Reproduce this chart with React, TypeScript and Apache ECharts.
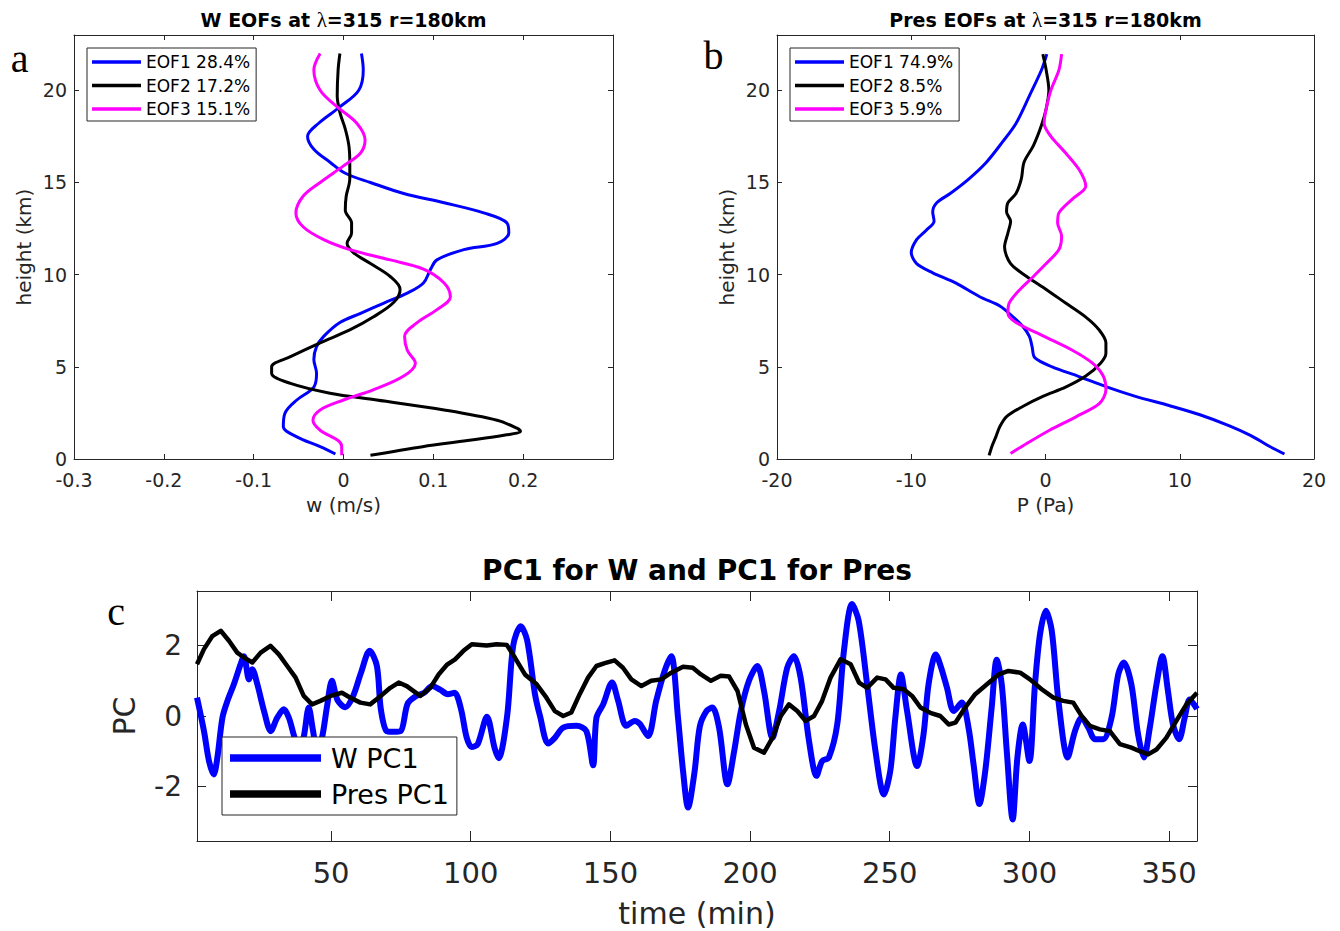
import React, { useEffect, useRef } from "react";
import * as echarts from "echarts";

// ---------- Panel a : W EOFs (x = w in m/s, y = height km) ----------
const wEof1H = [22.0, 21.1, 20.0, 19.1, 18.2, 17.5, 16.8, 16.1, 15.5, 15.0, 14.4, 13.9, 13.35, 12.8, 12.26, 11.7, 11.36, 10.8, 10.3, 9.55, 9.0, 8.46, 7.9, 7.4, 6.65, 6.1, 5.4, 4.65, 3.9, 3.2, 2.5, 1.76, 1.2, 0.67, 0.27];
const wEof1X = [0.020, 0.022, 0.017, -0.004, -0.028, -0.040, -0.033, -0.015, 0.002, 0.030, 0.067, 0.112, 0.156, 0.182, 0.184, 0.171, 0.134, 0.104, 0.097, 0.089, 0.071, 0.045, 0.019, -0.004, -0.022, -0.030, -0.033, -0.030, -0.033, -0.052, -0.065, -0.067, -0.052, -0.026, -0.009];

const wEof2H = [22.0, 21.1, 19.7, 18.8, 17.9, 17.0, 16.1, 15.2, 14.25, 13.5, 12.8, 12.26, 11.7, 11.2, 10.6, 9.9, 9.2, 8.5, 7.7, 7.0, 6.3, 5.55, 5.0, 4.65, 4.1, 3.57, 3.2, 2.66, 2.1, 1.67, 1.5, 1.3, 1.0, 0.67, 0.2];
const wEof2X = [-0.004, -0.006, -0.007, -0.004, 0.002, 0.006, 0.007, 0.007, 0.003, 0.002, 0.009, 0.009, 0.004, 0.011, 0.030, 0.052, 0.063, 0.056, 0.033, 0.007, -0.026, -0.059, -0.080, -0.080, -0.059, -0.015, 0.037, 0.112, 0.171, 0.193, 0.197, 0.180, 0.138, 0.088, 0.030];

const wEof3H = [22.0, 21.1, 20.0, 19.1, 18.2, 17.3, 16.6, 15.9, 15.0, 14.25, 13.35, 12.6, 11.9, 11.36, 10.8, 10.3, 9.55, 8.8, 8.1, 7.4, 6.65, 5.9, 5.2, 4.5, 3.75, 3.2, 2.66, 2.1, 1.56, 1.0, 0.67, 0.2];
const wEof3X = [-0.026, -0.033, -0.026, -0.007, 0.015, 0.024, 0.019, 0.000, -0.026, -0.045, -0.053, -0.045, -0.022, 0.007, 0.052, 0.089, 0.112, 0.119, 0.104, 0.082, 0.068, 0.071, 0.080, 0.067, 0.033, 0.000, -0.026, -0.034, -0.026, -0.006, -0.002, -0.002];

// ---------- Panel b : Pres EOFs (x = P in Pa, y = height km) ----------
const pEof1H = [21.96, 21.1, 19.7, 18.2, 17.2, 16.1, 15.2, 14.4, 13.9, 13.4, 12.9, 12.4, 11.9, 11.2, 10.6, 10.1, 9.55, 8.8, 8.3, 7.7, 7.2, 6.65, 6.1, 5.5, 5.0, 4.5, 3.9, 3.4, 2.9, 2.4, 1.8, 1.27, 0.72, 0.27];
const pEof1X = [0.1, -0.3, -1.2, -2.2, -3.2, -4.4, -5.7, -7.1, -8.1, -8.4, -8.3, -8.9, -9.6, -10.0, -9.6, -8.4, -6.7, -4.9, -3.4, -2.4, -1.7, -1.2, -1.0, -0.8, 0.5, 2.4, 4.6, 6.7, 9.2, 11.5, 13.7, 15.3, 16.6, 17.8];

const pEof2H = [21.96, 21.1, 20.0, 19.0, 18.1, 17.0, 16.1, 15.2, 14.4, 13.9, 13.4, 12.9, 12.26, 11.5, 10.6, 9.9, 9.2, 8.46, 7.7, 7.0, 6.3, 5.74, 5.2, 4.5, 3.9, 3.4, 2.85, 2.3, 1.76, 1.2, 0.67, 0.2];
const pEof2X = [-0.2, 0.05, 0.25, 0.05, -0.3, -0.9, -1.6, -1.8, -2.2, -2.8, -2.9, -2.6, -2.8, -3.05, -2.6, -1.4, 0.05, 1.5, 3.0, 4.0, 4.5, 4.5, 4.1, 3.0, 1.5, -0.2, -1.7, -2.9, -3.4, -3.7, -4.0, -4.2];

const pEof3H = [21.96, 21.1, 20.0, 19.0, 18.2, 17.5, 16.6, 15.7, 14.8, 14.1, 13.35, 12.8, 12.1, 11.36, 10.6, 9.9, 9.2, 8.46, 7.9, 7.4, 6.65, 5.9, 5.2, 4.5, 3.75, 3.0, 2.3, 1.56, 0.84, 0.3];
const pEof3X = [1.2, 1.0, 0.4, 0.05, -0.1, 0.4, 1.5, 2.5, 3.0, 2.0, 1.0, 0.9, 1.2, 1.0, 0.05, -0.9, -1.9, -2.7, -2.8, -2.2, -0.1, 2.0, 3.5, 4.3, 4.5, 4.0, 2.3, 0.3, -1.4, -2.6];

// ---------- Panel c : PC1 time series ----------
const wPcT = [2, 4.5, 6.3, 8, 9.3, 11.1, 12.9, 15.2, 17.6, 18.8, 20.6, 21.8, 23.6, 26, 28.4, 30.7, 33.1, 34.9, 36.7, 38.5, 40.2, 42, 43.5, 45, 46.8, 48.6, 50.3, 52.3, 55.1, 57.9, 60.7, 63.8, 66.4, 67.8, 69.9, 72, 74.9, 77.4, 80.5, 83.3, 86.2, 89, 91.8, 94.2, 96.5, 98.5, 100.3, 102.5, 105.8, 108.5, 110, 113, 115.2, 117.9, 120.2, 123, 124.8, 127.7, 130.1, 133.1, 137.9, 141.4, 143.8, 145, 147.4, 150.6, 152.7, 155.7, 158.7, 160.5, 163.5, 166.4, 169.4, 171.8, 174.2, 176, 177.8, 180.1, 182, 184.5, 186.5, 188.9, 191.9, 194.3, 196.7, 199.6, 202.6, 205, 208, 210.4, 213.3, 215.7, 218.1, 221.1, 223.8, 225.8, 228.2, 231.2, 233.6, 236.5, 238.9, 241.9, 244.9, 247.9, 250.2, 252, 254, 256.2, 259.8, 262.1, 263.9, 266.5, 268.3, 270.5, 272.9, 275.8, 278.2, 280, 282.1, 284.2, 286.5, 288.3, 290.1, 291.9, 294, 295.7, 297.6, 300, 302, 303.8, 305.9, 308, 310.4, 313.7, 316.3, 318.7, 321.1, 323.5, 326.4, 329.4, 331.8, 333.8, 336.5, 338.9, 341, 343.1, 345.5, 347.6, 349.6, 351.4, 353.6, 355.6, 357.4, 360];
const wPcV = [0.52, -0.43, -1.28, -1.66, -1.18, -0.05, 0.43, 0.9, 1.47, 1.7, 1.04, 1.33, 0.9, 0.14, -0.43, -0.05, 0.19, -0.05, -0.55, -1.0, -0.6, 0.24, -0.4, -1.0, -0.6, 0.3, 1.0, 0.45, 0.25, 0.57, 1.23, 1.85, 1.42, 0.2, -0.43, -0.45, -0.43, 0.35, 0.57, 0.66, 0.85, 0.75, 0.62, 0.66, 0.2, -0.6, -0.88, -0.8, -0.02, -0.9, -1.2, -0.02, 2.0, 2.55, 2.15, 0.62, 0.0, -0.78, -0.62, -0.33, -0.28, -0.43, -1.4, -0.05, 0.33, 0.95, 0.45, -0.28, -0.14, -0.22, -0.57, 0.43, 1.28, 1.7, -0.05, -1.56, -2.6, -1.6, -0.3, 0.15, 0.24, -0.33, -1.94, -1.0, 0.14, 1.0, 1.42, 0.71, -0.62, 0.14, 1.37, 1.7, 1.09, -0.71, -1.7, -1.28, -1.18, -0.24, 1.85, 3.18, 2.7, 0.9, -1.0, -2.23, -1.56, -0.05, 1.18, 0.14, -1.42, -0.52, 0.9, 1.75, 1.4, 0.8, 0.14, 0.38, -0.33, -1.37, -2.5, -1.56, 0.24, 1.6, 0.9, -1.0, -2.94, -1.18, -0.24, -1.28, 0.9, 2.32, 2.99, 2.42, 0.43, -1.18, -0.43, -0.05, -0.33, -0.66, -0.66, -0.05, 1.18, 1.52, 0.9, -0.52, -1.18, -0.33, 0.9, 1.7, 0.71, -0.24, -0.66, -0.05, 0.47, 0.2];

const pPcT = [2, 4.5, 7.5, 10.5, 13.5, 16.4, 18.8, 21.8, 24.8, 28.3, 31.3, 34.3, 37.3, 40.2, 43.2, 46.2, 49.8, 53.9, 56.9, 60.5, 64, 67, 71.2, 74.2, 77.1, 81.9, 85.5, 88.5, 91.4, 94.4, 97.4, 100.4, 105.7, 109.3, 112.9, 115.8, 119.4, 123.6, 127.1, 130.1, 133.1, 136, 139, 142, 145, 148, 151.5, 154.5, 157.5, 161.1, 164.6, 168.2, 171.8, 176, 179.5, 182.4, 186, 189.5, 192.5, 195.5, 198.5, 201.4, 205, 208, 211, 213.9, 216.9, 219.9, 222.9, 225.8, 228.8, 232.4, 236, 239, 241.9, 245.5, 248.5, 251.4, 255, 258, 261, 264.5, 268.1, 271.1, 273.5, 277, 280.6, 284.8, 289, 292.5, 296.7, 300.2, 304.4, 308.6, 312.1, 315.7, 318.7, 321.7, 325.2, 328.8, 332.4, 336.5, 339.5, 342.5, 345.5, 349, 352.6, 356.2, 360];
const pPcV = [1.47, 1.9, 2.27, 2.42, 2.13, 1.8, 1.66, 1.52, 1.8, 1.99, 1.75, 1.42, 1.09, 0.57, 0.33, 0.43, 0.57, 0.66, 0.52, 0.38, 0.33, 0.52, 0.8, 0.95, 0.85, 0.57, 0.8, 1.18, 1.45, 1.61, 1.85, 2.04, 2.0, 2.04, 2.02, 1.66, 1.18, 0.9, 0.52, 0.14, 0.0, 0.1, 0.62, 1.09, 1.42, 1.5, 1.58, 1.37, 1.04, 0.85, 1.0, 1.04, 1.23, 1.4, 1.37, 1.18, 1.0, 1.14, 1.12, 0.71, -0.24, -0.9, -1.04, -0.62, 0.0, 0.33, 0.14, -0.14, 0.0, 0.43, 1.09, 1.61, 1.47, 0.95, 0.8, 1.09, 1.04, 0.8, 0.76, 0.57, 0.24, 0.09, 0.0, -0.24, -0.19, 0.24, 0.62, 0.9, 1.18, 1.28, 1.23, 1.04, 0.76, 0.52, 0.43, 0.38, 0.0, -0.28, -0.38, -0.43, -0.8, -0.9, -1.0, -1.09, -0.95, -0.62, -0.14, 0.33, 0.66];

// ---------- Tick values ----------
const aXTicks = [-0.3, -0.2, -0.1, 0, 0.1, 0.2];
const bXTicks = [-20, -10, 0, 10, 20];
const hTicks = [0, 5, 10, 15, 20];
const cXTicks = [50, 100, 150, 200, 250, 300, 350];
const cYTicks = [-2, 0, 2];

const FONT = "DejaVu Sans";
const SERIF = "Liberation Serif";
const AX = "#262626";
const BLUE = "#0000FF";
const MAG = "#FF00FF";
const BLK = "#000000";

const prof = (h: number[], x: number[]) => h.map((hv, i) => [x[i], hv]);
const ts = (t: number[], v: number[]) => t.map((tv, i) => [tv, v[i]]);

function axis(opts: {
  grid: number; min: number; max: number; pos: string; ticks: number[];
  labels?: number[]; fontSize?: number; tickLen: number; margin?: number;
  fmt?: (v: number) => string;
}) {
  return {
    type: "value",
    gridIndex: opts.grid,
    min: opts.min,
    max: opts.max,
    position: opts.pos,
    splitLine: { show: false },
    axisLine: { show: true, onZero: false, lineStyle: { color: AX, width: 1 } },
    axisTick: { show: true, inside: true, length: opts.tickLen, customValues: opts.ticks, lineStyle: { color: AX, width: 1 } },
    axisLabel: opts.labels
      ? {
          show: true,
          customValues: opts.labels,
          fontFamily: FONT,
          fontSize: opts.fontSize,
          color: AX,
          margin: opts.margin,
          formatter: opts.fmt,
        }
      : { show: false },
  };
}

const fmtA = (v: number) => (Math.abs(v) < 1e-9 ? "0" : String(+v.toFixed(1)));

const smallLegend = (names: string[], left: number) => ({
  data: names,
  orient: "vertical", left, top: 48, icon: "rect", itemWidth: 49, itemHeight: 3.5, itemGap: 3.5,
  padding: [4, 6, 2, 5], borderColor: AX, borderWidth: 1, backgroundColor: "#fff",
  selectedMode: false,
  textStyle: { fontFamily: FONT, fontSize: 17, color: "#000", lineHeight: 20 },
});

const option: any = {
  animation: false,
  backgroundColor: "#ffffff",
  grid: [
    { left: 74, top: 35, width: 539, height: 424 },
    { left: 777, top: 35, width: 537, height: 424 },
    { left: 197, top: 591, width: 1000, height: 250 },
  ],
  xAxis: [
    axis({ grid: 0, min: -0.3, max: 0.3, pos: "bottom", ticks: [-0.2, -0.1, 0, 0.1, 0.2], labels: aXTicks, fontSize: 19, tickLen: 5, margin: 11, fmt: fmtA }),
    axis({ grid: 0, min: -0.3, max: 0.3, pos: "top", ticks: [-0.2, -0.1, 0, 0.1, 0.2], tickLen: 5 }),
    axis({ grid: 1, min: -20, max: 20, pos: "bottom", ticks: [-10, 0, 10], labels: bXTicks, fontSize: 19, tickLen: 5, margin: 11 }),
    axis({ grid: 1, min: -20, max: 20, pos: "top", ticks: [-10, 0, 10], tickLen: 5 }),
    axis({ grid: 2, min: 2, max: 360, pos: "bottom", ticks: cXTicks, labels: cXTicks, fontSize: 29, tickLen: 10, margin: 17 }),
    axis({ grid: 2, min: 2, max: 360, pos: "top", ticks: cXTicks, tickLen: 10 }),
  ],
  yAxis: [
    axis({ grid: 0, min: 0, max: 23, pos: "left", ticks: [5, 10, 15, 20], labels: hTicks, fontSize: 19, tickLen: 5, margin: 7 }),
    axis({ grid: 0, min: 0, max: 23, pos: "right", ticks: [5, 10, 15, 20], tickLen: 5 }),
    axis({ grid: 1, min: 0, max: 23, pos: "left", ticks: [5, 10, 15, 20], labels: hTicks, fontSize: 19, tickLen: 5, margin: 7 }),
    axis({ grid: 1, min: 0, max: 23, pos: "right", ticks: [5, 10, 15, 20], tickLen: 5 }),
    axis({ grid: 2, min: -3.55, max: 3.55, pos: "left", ticks: cYTicks, labels: cYTicks, fontSize: 28, tickLen: 9, margin: 15 }),
    axis({ grid: 2, min: -3.55, max: 3.55, pos: "right", ticks: cYTicks, tickLen: 9 }),
  ],
  legend: [
    smallLegend(["EOF1 28.4%", "EOF2 17.2%", "EOF3 15.1%"], 87),
    smallLegend(["EOF1 74.9%", "EOF2 8.5%", "EOF3 5.9%"], 790),
    {
      data: ["W PC1", "Pres PC1"],
      orient: "vertical", left: 222, top: 737, icon: "rect", itemWidth: 91, itemHeight: 7.5, itemGap: 6,
      padding: [6, 8, 6, 8], borderColor: AX, borderWidth: 1, backgroundColor: "#fff",
      selectedMode: false,
      textStyle: { fontFamily: FONT, fontSize: 27, color: "#000", lineHeight: 30, padding: [0, 0, 0, 5] },
    },
  ],
  series: [
    { name: "EOF1 28.4%", type: "line", xAxisIndex: 0, yAxisIndex: 0, data: prof(wEof1H, wEof1X), symbol: "none", smooth: 0.35, lineStyle: { color: BLUE, width: 3 }, itemStyle: { color: BLUE } },
    { name: "EOF2 17.2%", type: "line", xAxisIndex: 0, yAxisIndex: 0, data: prof(wEof2H, wEof2X), symbol: "none", smooth: 0.35, lineStyle: { color: BLK, width: 3 }, itemStyle: { color: BLK } },
    { name: "EOF3 15.1%", type: "line", xAxisIndex: 0, yAxisIndex: 0, data: prof(wEof3H, wEof3X), symbol: "none", smooth: 0.35, lineStyle: { color: MAG, width: 3 }, itemStyle: { color: MAG } },
    { name: "EOF1 74.9%", type: "line", xAxisIndex: 2, yAxisIndex: 2, data: prof(pEof1H, pEof1X), symbol: "none", smooth: 0.3, lineStyle: { color: BLUE, width: 3 }, itemStyle: { color: BLUE } },
    { name: "EOF2 8.5%", type: "line", xAxisIndex: 2, yAxisIndex: 2, data: prof(pEof2H, pEof2X), symbol: "none", smooth: 0.3, lineStyle: { color: BLK, width: 3 }, itemStyle: { color: BLK } },
    { name: "EOF3 5.9%", type: "line", xAxisIndex: 2, yAxisIndex: 2, data: prof(pEof3H, pEof3X), symbol: "none", smooth: 0.3, lineStyle: { color: MAG, width: 3 }, itemStyle: { color: MAG } },
    { name: "W PC1", type: "line", xAxisIndex: 4, yAxisIndex: 4, data: ts(wPcT, wPcV), symbol: "none", smooth: 0.3, lineStyle: { color: BLUE, width: 6 }, itemStyle: { color: BLUE } },
    { name: "Pres PC1", type: "line", xAxisIndex: 4, yAxisIndex: 4, data: ts(pPcT, pPcV), symbol: "none", smooth: false, lineStyle: { color: BLK, width: 4.5, join: "round" }, itemStyle: { color: BLK } },
  ],
  graphic: [
    {
      type: "text", x: 343.5, y: 20,
      style: {
        text: "{b|W EOFs at }{l|λ}{b|=315 r=180km}",
        rich: {
          b: { fontFamily: FONT, fontWeight: "bold", fontSize: 19, fill: "#000" },
          l: { fontFamily: SERIF, fontSize: 21, fill: "#000" },
        },
        align: "center", verticalAlign: "middle",
      },
    },
    {
      type: "text", x: 1045.5, y: 20,
      style: {
        text: "{b|Pres EOFs at }{l|λ}{b|=315 r=180km}",
        rich: {
          b: { fontFamily: FONT, fontWeight: "bold", fontSize: 19, fill: "#000" },
          l: { fontFamily: SERIF, fontSize: 21, fill: "#000" },
        },
        align: "center", verticalAlign: "middle",
      },
    },
    { type: "text", x: 697, y: 570, style: { text: "PC1 for W and PC1 for Pres", fontFamily: FONT, fontWeight: "bold", fontSize: 28, fill: "#000", align: "center", verticalAlign: "middle" } },
    { type: "text", x: 19.5, y: 58, style: { text: "a", fontFamily: SERIF, fontSize: 40, fill: "#000", align: "center", verticalAlign: "middle" } },
    { type: "text", x: 713.5, y: 55, style: { text: "b", fontFamily: SERIF, fontSize: 40, fill: "#000", align: "center", verticalAlign: "middle" } },
    { type: "text", x: 116, y: 611, style: { text: "c", fontFamily: SERIF, fontSize: 40, fill: "#000", align: "center", verticalAlign: "middle" } },
    { type: "text", x: 23.5, y: 247, rotation: Math.PI / 2, style: { text: "height (km)", fontFamily: FONT, fontSize: 20, fill: AX, align: "center", verticalAlign: "middle" } },
    { type: "text", x: 726.5, y: 247, rotation: Math.PI / 2, style: { text: "height (km)", fontFamily: FONT, fontSize: 20, fill: AX, align: "center", verticalAlign: "middle" } },
    { type: "text", x: 343.5, y: 505, style: { text: "w (m/s)", fontFamily: FONT, fontSize: 20, fill: AX, align: "center", verticalAlign: "middle" } },
    { type: "text", x: 1045.5, y: 505, style: { text: "P (Pa)", fontFamily: FONT, fontSize: 20, fill: AX, align: "center", verticalAlign: "middle" } },
    { type: "text", x: 124, y: 716, rotation: Math.PI / 2, style: { text: "PC", fontFamily: FONT, fontSize: 30, fill: AX, align: "center", verticalAlign: "middle" } },
    { type: "text", x: 697, y: 913, style: { text: "time (min)", fontFamily: FONT, fontSize: 30, fill: AX, align: "center", verticalAlign: "middle" } },
  ],
};

export default function App() {
  const ref = useRef<HTMLDivElement>(null);
  useEffect(() => {
    if (!ref.current) return;
    const chart = echarts.init(ref.current, null, { renderer: "svg" });
    chart.setOption(option);
    return () => chart.dispose();
  }, []);
  return (
    <div
      ref={ref}
      style={{ position: "fixed", left: 0, top: 0, width: 1340, height: 931, background: "#fff" }}
    />
  );
}
